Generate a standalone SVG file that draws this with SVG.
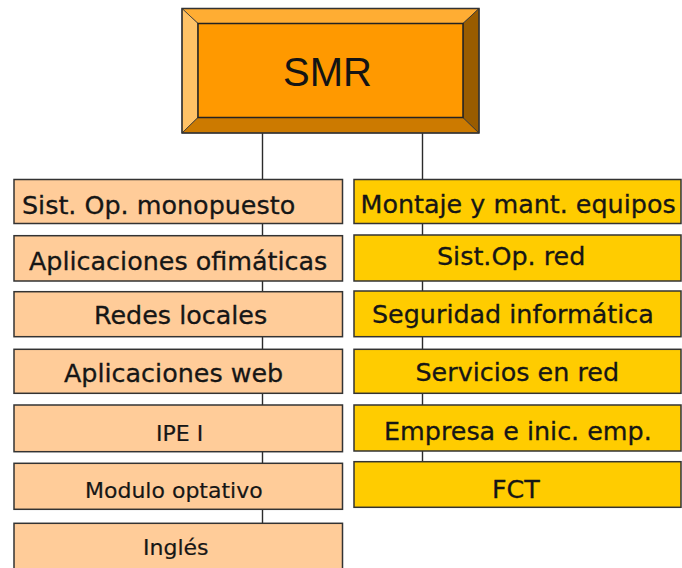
<svg xmlns="http://www.w3.org/2000/svg" width="682" height="568" viewBox="0 0 682 568">
<style>
.conn{stroke:#2b2b2b;stroke-width:1.4;fill:none}
.bl{fill:#FFCC99;stroke:#333;stroke-width:1.5}
.br{fill:#FFCC00;stroke:#333;stroke-width:1.5}
.t{font-family:"DejaVu Sans",Verdana,sans-serif;font-size:25.4px;fill:#161616;stroke:#161616;stroke-width:0.3}
.s{font-family:"DejaVu Sans",Verdana,sans-serif;font-size:22px;fill:#161616;stroke:#161616;stroke-width:0.2}
.bev{stroke:#333;stroke-width:0.8}
</style>
<rect width="682" height="568" fill="#fff"/>
<g id="connectors">
<line class="conn" x1="262.5" y1="133" x2="262.5" y2="524"/>
<line class="conn" x1="422.5" y1="133" x2="422.5" y2="462"/>
</g>
<g id="smr">
<polygon class="bev" points="182,8.5 479,8.5 463,23.5 198,23.5" fill="#FFAD33"/>
<polygon class="bev" points="182,8.5 198,23.5 198,117.5 182,133" fill="#FFC266"/>
<polygon class="bev" points="182,133 198,117.5 463,117.5 479,133" fill="#CC7A00"/>
<polygon class="bev" points="479,8.5 479,133 463,117.5 463,23.5" fill="#995C00"/>
<rect x="182" y="8.5" width="297" height="124.5" fill="none" stroke="#333" stroke-width="1.5"/>
<rect x="198" y="23.5" width="265" height="94" fill="#FF9900" stroke="#222" stroke-width="1.5"/>
<text x="327.5" y="85.7" text-anchor="middle" font-family="'Liberation Sans',Arial,sans-serif" font-size="40" fill="#141414">SMR</text>
</g>
<g id="l1"><rect class="bl" x="14" y="179.5" width="328.5" height="44"/><text class="t" x="22" y="214">Sist. Op. monopuesto</text></g>
<g id="l2"><rect class="bl" x="14" y="235.7" width="328.5" height="45.3"/><text class="t" x="29" y="270">Aplicaciones ofimáticas</text></g>
<g id="l3"><rect class="bl" x="14" y="291.7" width="328.5" height="45"/><text class="t" x="94" y="324">Redes locales</text></g>
<g id="l4"><rect class="bl" x="14" y="349.3" width="328.5" height="44"/><text class="t" x="64" y="381.7">Aplicaciones web</text></g>
<g id="l5"><rect class="bl" x="14" y="405" width="328.5" height="46.7"/><text class="s" x="156" y="440.7">IPE I</text></g>
<g id="l6"><rect class="bl" x="14" y="463.3" width="328.5" height="46"/><text class="s" x="85" y="498">Modulo optativo</text></g>
<g id="l7"><rect class="bl" x="14" y="523.3" width="328.5" height="60"/><text class="s" x="143" y="555">Inglés</text></g>
<g id="r1"><rect class="br" x="354" y="179.5" width="327" height="44"/><text class="t" x="360.5" y="212.7">Montaje y mant. equipos</text></g>
<g id="r2"><rect class="br" x="354" y="235" width="327" height="46"/><text class="t" x="437" y="265">Sist.Op. red</text></g>
<g id="r3"><rect class="br" x="354" y="291" width="327" height="45.7"/><text class="t" x="372" y="323">Seguridad informática</text></g>
<g id="r4"><rect class="br" x="354" y="349.3" width="327" height="44"/><text class="t" x="415.5" y="381">Servicios en red</text></g>
<g id="r5"><rect class="br" x="354" y="405" width="327" height="46"/><text class="t" x="384" y="440">Empresa e inic. emp.</text></g>
<g id="r6"><rect class="br" x="354" y="461.7" width="327" height="45.6"/><text class="t" x="492" y="498">FCT</text></g>
</svg>
